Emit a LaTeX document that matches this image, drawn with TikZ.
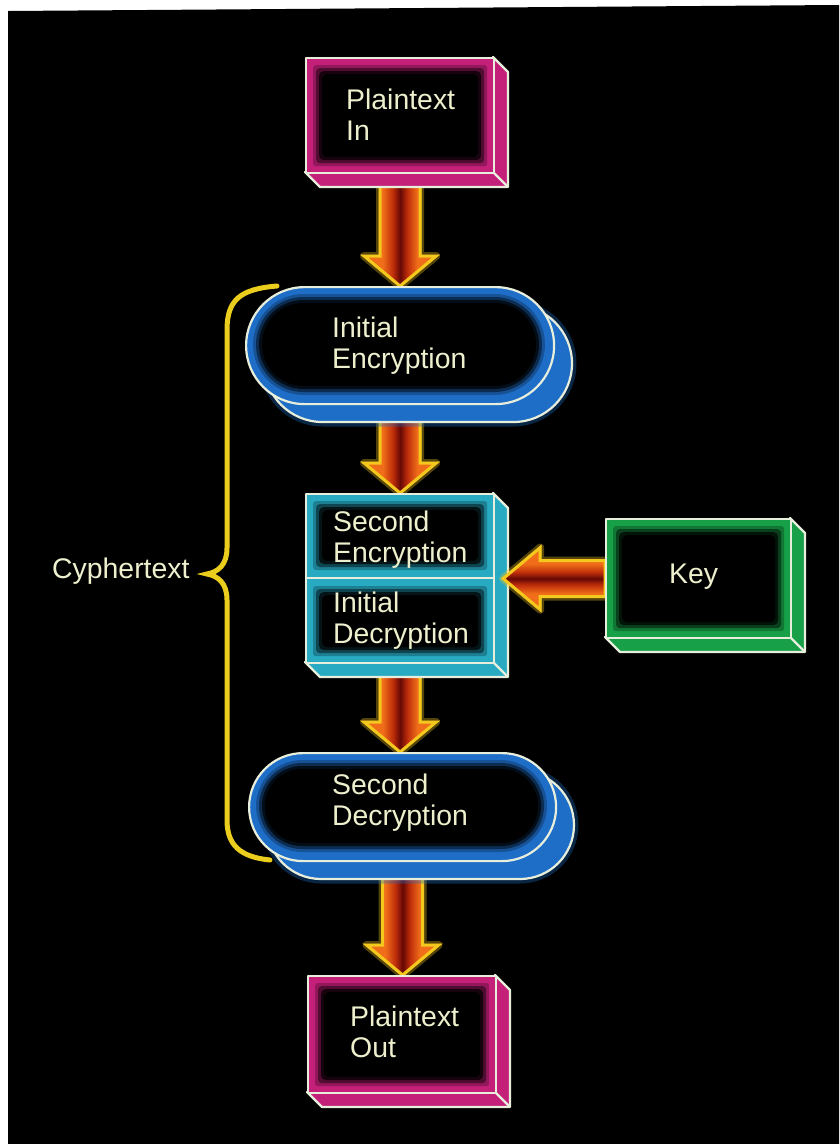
\documentclass[tikz,border=0pt]{standalone}
\usepackage{fontspec}
\setmainfont{Liberation Sans}
\usetikzlibrary{calc}
\pgfdeclarelayer{base}\pgfdeclarelayer{bg}\pgfdeclarelayer{fg}
\pgfsetlayers{base,bg,main,fg}
\definecolor{edge}{RGB}{232,238,220}
\definecolor{txt}{RGB}{238,240,205}
\definecolor{mag}{RGB}{196,32,122}
\definecolor{blu}{RGB}{30,110,200}
\definecolor{cya}{RGB}{40,170,195}
\definecolor{grn}{RGB}{24,160,72}
\definecolor{ayel}{RGB}{245,200,30}
\definecolor{aora}{RGB}{240,110,25}
\definecolor{ared}{RGB}{190,45,10}
\definecolor{adrk}{RGB}{100,8,5}
\definecolor{aside}{RGB}{230,130,30}
\definecolor{brc}{RGB}{235,205,30}
\pgfdeclarehorizontalshading{arrsh}{100bp}{color(0bp)=(aora); color(25bp)=(aora); color(38bp)=(aora); color(45bp)=(ared); color(50bp)=(adrk); color(55bp)=(ared); color(62bp)=(aora); color(75bp)=(aora); color(100bp)=(aora)}
\tikzset{
 lbl/.style={text=txt, font=\fontsize{28.4}{31}\selectfont, align=left, inner sep=0, anchor=base west},
 edgeline/.style={draw=edge, line width=2.2pt, line join=round},
 arrowglow/.style={draw=ayel, opacity=.35, line width=8pt, line join=round},
 arrowback/.style={fill=aside, draw=ayel, line width=2.5pt, line join=miter},
 varrowfront/.style={draw=ayel, line width=3pt, line join=miter, shading=arrsh},
 harrowfront/.style={draw=ayel, line width=3pt, line join=miter, shading=arrsh, shading angle=90},
 bracestyle/.style={draw=brc, line width=5pt, line cap=round},
}
% 3D box: name, left, top, width, height, colour
\newcommand\xbox[6]{%
 \begin{scope}[shift={(#2,#3)}]
  \path[fill=#6, edgeline] (#4,0) -- ({#4+15},15) -- ({#4+15},{#5+15}) -- (15,{#5+15}) -- (0,#5) -- (#4,#5) -- cycle;
  \draw[edgeline] (#4,#5) -- ({#4+15},{#5+15});
  \node[anchor=north west, inner sep=0, minimum width=#4pt, minimum height=#5pt, fill=#6, edgeline] (#1) at (0,0) {};
 \end{scope}}
% inner dark glow of a rectangle
\newcommand\glowbox[2]{%
 \fill[black,opacity=.25,rounded corners=3pt] ($(#1)+(8,8)$) rectangle ($(#2)+(-8,-8)$);
 \fill[black,opacity=.45,rounded corners=4pt] ($(#1)+(11,11)$) rectangle ($(#2)+(-11,-11)$);
 \fill[black,opacity=.7,rounded corners=5pt] ($(#1)+(14,14)$) rectangle ($(#2)+(-14,-14)$);
 \fill[black,rounded corners=6pt] ($(#1)+(17,17)$) rectangle ($(#2)+(-17,-17)$);}
% stadium: name, left, top, width, height
\newcommand\stad[5]{%
 \begin{scope}[shift={(#2,#3)}]
  \pgfmathsetmacro\rr{#5/2}
  \path[draw=blu, opacity=.35, line width=9pt, rounded corners=\rr pt] (19,19) rectangle ({#4+19},{#5+19});
  \path[fill=blu, edgeline, rounded corners=\rr pt] (19,19) rectangle ({#4+19},{#5+19});
  \node[anchor=north west, inner sep=0, minimum width=#4pt, minimum height=#5pt, fill=blu, edgeline, rounded corners=\rr pt] (#1) at (0,0) {};
  \foreach \i/\o in {8/.25,11/.45,14/.7,17/1} {
   \pgfmathsetmacro\ri{#5/2-\i}
   \fill[black, opacity=\o, rounded corners=\ri pt] (\i,\i) rectangle ({#4-\i},{#5-\i});
  }
 \end{scope}}
% vertical block arrow from #1 (top) down to #2 (tip)
\newcommand\vshape[3]{%
 \path[#3] let \p1=(#1), \p2=(#2) in
  (\x1-20pt,\y1) -- (\x1-20pt,\y2+30pt) -- (\x1-36pt,\y2+30pt) -- (\x1,\y2)
  -- (\x1+36pt,\y2+30pt) -- (\x1+20pt,\y2+30pt) -- (\x1+20pt,\y1) -- cycle;}
\newcommand\varrow[2]{%
 \vshape{#1}{#2}{arrowglow}%
 \vshape{#1}{#2}{arrowback,xshift=7pt,yshift=-5pt}%
 \vshape{#1}{#2}{varrowfront}}
% horizontal block arrow from #1 (right) to #2 (tip, left)
\newcommand\hshape[3]{%
 \path[#3] let \p1=(#1), \p2=(#2) in
  (\x1,\y1+18pt) -- (\x2+37pt,\y1+18pt) -- (\x2+37pt,\y1+31pt) -- (\x2,\y1)
  -- (\x2+37pt,\y1-31pt) -- (\x2+37pt,\y1-18pt) -- (\x1,\y1-18pt) -- cycle;}
\newcommand\harrow[2]{%
 \hshape{#1}{#2}{arrowglow}%
 \hshape{#1}{#2}{arrowback,xshift=4pt,yshift=-6pt}%
 \hshape{#1}{#2}{harrowfront}}
\begin{document}
\begin{tikzpicture}[x=1pt,y=-1pt]
\useasboundingbox (0,0) rectangle (839,1144);
\begin{pgfonlayer}{base}
 \fill[white] (0,0) rectangle (839,1144);
 \fill[black] (8,11) -- (839,5) -- (839,1144) -- (8,1144) -- cycle;
\end{pgfonlayer}

% boxes
\xbox{pin}{305}{57}{188}{115}{mag}
\glowbox{pin.north west}{pin.south east}
\node[lbl] (tpin) at (346,140) {Plaintext\\In};

\stad{enc1}{245}{286}{308}{117}
\node[lbl] (tenc1) at (332,368) {Initial\\Encryption};

\xbox{mid}{305}{493}{188}{169}{cya}
\coordinate (divL) at ($(mid.north west)+(0,85)$);
\coordinate (divR) at ($(mid.north east)+(0,85)$);
\glowbox{mid.north west}{divR}
\glowbox{divL}{mid.south east}
\draw[edgeline] (divL) -- (divR);
\node[lbl] (tmid1) at (333,562) {Second\\Encryption};
\node[lbl] (tmid2) at (333,643) {Initial\\Decryption};

\begin{pgfonlayer}{fg}
\xbox{key}{605}{518}{185}{119}{grn}
\glowbox{key.north west}{key.south east}
\node[lbl] (tkey) at (669,583) {Key};
\end{pgfonlayer}

\stad{enc2}{248}{752}{307}{108}
\node[lbl] (tenc2) at (332,825) {Second\\Decryption};

\xbox{pout}{307}{975}{188}{117}{mag}
\glowbox{pout.north west}{pout.south east}
\node[lbl] (tout) at (350,1057) {Plaintext\\Out};

% arrows
\begin{pgfonlayer}{bg}
\varrow{pin.south}{enc1.north}
\varrow{enc1.south}{mid.north}
\varrow{mid.south}{enc2.north}
\varrow{enc2.south}{pout.north}
\end{pgfonlayer}
\coordinate (ktip) at ($(mid.east |- key.west)+(8,0)$);
\harrow{key.west}{ktip}

% brace and label
\node[lbl] (cyph) at (52,578) {Cyphertext};
\coordinate (btop) at (277,286);
\coordinate (btip) at (207,574);
\coordinate (bbot) at (270,860);
\draw[bracestyle] (btop) .. controls (240,289) and (227,300) .. (227,330) -- (227,548)
  .. controls (227,565) and (218,572) .. (btip)
  .. controls (218,576) and (227,583) .. (227,600) -- (227,820)
  .. controls (227,845) and (240,857) .. (bbot);
\end{tikzpicture}
\end{document}
